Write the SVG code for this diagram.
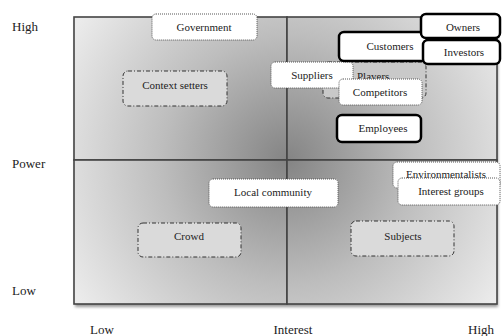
<svg xmlns="http://www.w3.org/2000/svg" width="502" height="336" viewBox="0 0 502 336">
<style>
text{font-family:"Liberation Serif","Times New Roman",serif;fill:#222;}
.lbl{font-size:11px;text-anchor:middle;}
.axis{font-size:13px;}
.dot{fill:#fff;stroke:#555;stroke-width:1;stroke-dasharray:1 1;}
.dd{fill:#dadada;stroke:#333;stroke-width:1;stroke-dasharray:4 2 1 2;}
.thick{fill:#fff;stroke:#000;stroke-width:2.5;}
.quad{fill:url(#g);stroke:#444;stroke-width:1.6;}
</style>
<defs>
<radialGradient id="g" gradientUnits="userSpaceOnUse" cx="287" cy="160" r="250">
<stop offset="0" stop-color="#848484"/>
<stop offset="0.5" stop-color="#bdbdbd"/>
<stop offset="1" stop-color="#ebebeb"/>
</radialGradient>
<filter id="sh" x="-5%" y="-5%" width="110%" height="115%">
<feGaussianBlur stdDeviation="1.5"/>
</filter>
</defs>
<rect width="502" height="336" fill="#fff"/>
<g id="grid">
<rect x="75" y="19" width="423" height="288" fill="#999" filter="url(#sh)"/>
<rect class="quad" x="74" y="17" width="213" height="143"/>
<rect class="quad" x="287" y="17" width="210" height="143"/>
<rect class="quad" x="74" y="160" width="213" height="144"/>
<rect class="quad" x="287" y="160" width="210" height="144"/>
</g>
<g id="axes">
<text class="axis" x="12" y="31">High</text>
<text class="axis" x="12" y="168">Power</text>
<text class="axis" x="12" y="295">Low</text>
<text class="axis" x="90" y="334">Low</text>
<text class="axis" x="293" y="334" text-anchor="middle">Interest</text>
<text class="axis" x="468" y="334">High</text>
</g>
<g id="government"><rect class="dot" x="152" y="14" width="105" height="26" rx="4"/><text class="lbl" x="204" y="31">Government</text></g>
<g id="context-setters"><rect class="dd" x="123" y="71" width="104" height="35" rx="5"/><text class="lbl" x="175" y="89">Context setters</text></g>
<g id="players"><rect class="dd" style="fill:#c9c9c9" x="323" y="62" width="103" height="36" rx="5"/><text class="lbl" x="357" y="80" style="text-anchor:start">Players</text></g>
<g id="suppliers"><rect class="dot" x="271" y="62" width="82" height="26" rx="4"/><text class="lbl" x="312" y="79">Suppliers</text></g>
<g id="competitors"><rect class="dot" x="339" y="79" width="83" height="26" rx="4"/><text class="lbl" x="380" y="96">Competitors</text></g>
<g id="customers"><rect class="thick" x="339" y="32" width="88" height="29" rx="5"/><text class="lbl" x="390" y="50">Customers</text></g>
<g id="owners"><rect class="thick" x="421" y="14" width="79" height="24" rx="5"/><text class="lbl" x="463" y="31">Owners</text></g>
<g id="investors"><rect class="thick" x="423" y="40" width="77" height="24" rx="5"/><text class="lbl" x="464" y="56">Investors</text></g>
<g id="employees"><rect class="thick" x="337" y="115" width="84" height="27" rx="5"/><text class="lbl" x="383" y="132">Employees</text></g>
<g id="local-community"><rect class="dot" x="209" y="179" width="129" height="28" rx="4"/><text class="lbl" x="273" y="196">Local community</text></g>
<g id="environmentalists"><rect class="dot" x="393" y="162" width="107" height="26" rx="4"/><text class="lbl" x="446" y="178">Environmentalists</text></g>
<g id="interest-groups"><rect class="dot" x="398" y="178" width="102" height="27" rx="4"/><text class="lbl" x="451" y="195">Interest groups</text></g>
<g id="crowd"><rect class="dd" x="138" y="223" width="103" height="34" rx="5"/><text class="lbl" x="189" y="240">Crowd</text></g>
<g id="subjects"><rect class="dd" x="351" y="221" width="103" height="35" rx="5"/><text class="lbl" x="403" y="240">Subjects</text></g>
</svg>
